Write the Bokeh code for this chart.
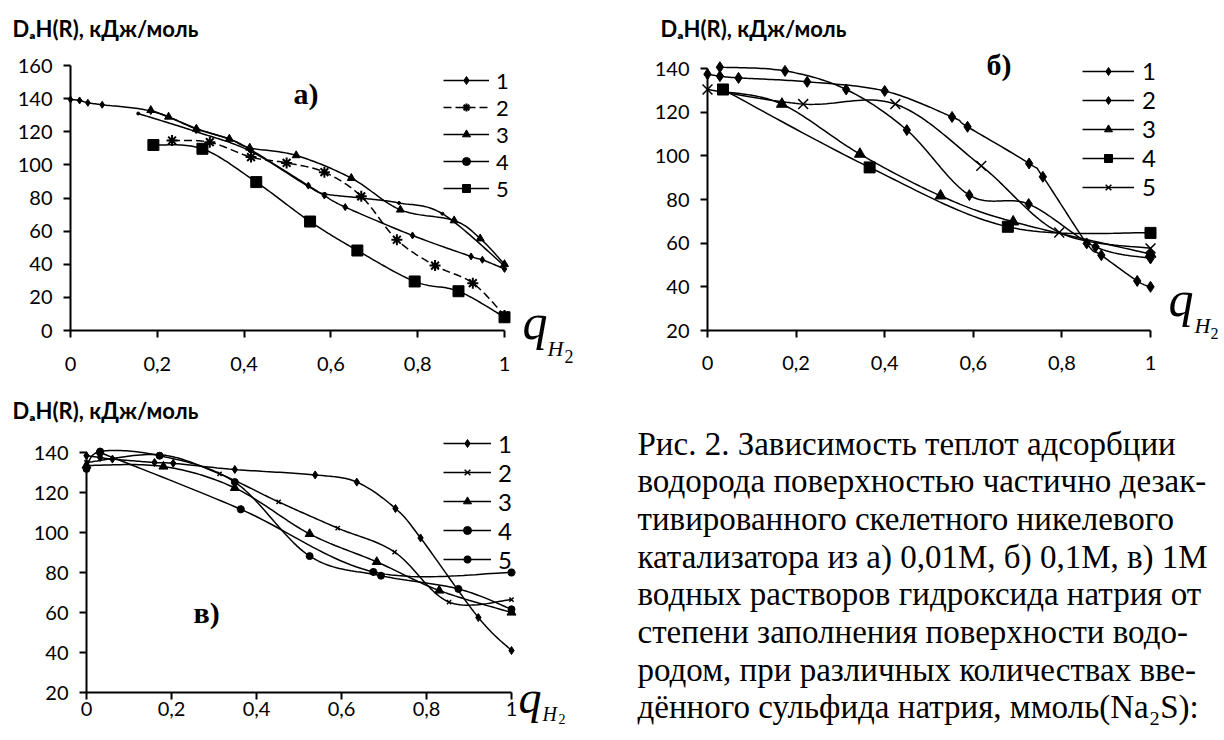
import numpy as np
from bokeh.plotting import figure
from bokeh.models import (Range1d, FixedTicker, CustomJSTickFormatter, Label,
                          Legend, LegendItem, LinearAxis)
from bokeh.layouts import row, column
from bokeh.embed import file_html
from bokeh.resources import INLINE

# ---------------- data ----------------
x_ticks = [0, 0.2, 0.4, 0.6, 0.8, 1]
x_tick_labels = ["0", "0,2", "0,4", "0,6", "0,8", "1"]
y_ticks_a = [0, 20, 40, 60, 80, 100, 120, 140, 160]
y_ticks_bc = [20, 40, 60, 80, 100, 120, 140]
series_names = ["1", "2", "3", "4", "5"]

# panel а)
a1_x = [0, 0.021, 0.04, 0.073, 0.185, 0.29, 0.366, 0.413, 0.548, 0.585, 0.633, 0.788, 0.923, 0.949, 1.0]
a1_y = [139.5, 138.9, 137.5, 136.3, 132.5, 122, 115.5, 109.5, 87.5, 81.5, 74.5, 57.4, 44.7, 42.7, 37.2]
a2_x = [0.234, 0.321, 0.416, 0.498, 0.585, 0.67, 0.752, 0.84, 0.927, 1.0]
a2_y = [114.7, 113.7, 104.7, 101.2, 95.6, 81, 54.8, 39.2, 28.6, 9]
a3_x = [0.185, 0.226, 0.29, 0.366, 0.413, 0.52, 0.647, 0.76, 0.884, 0.944, 1.0]
a3_y = [133, 129, 121.7, 115.7, 110.3, 105.7, 92, 72.9, 66.4, 55.5, 40]
a4_x = [0.156, 0.29, 0.413, 0.548, 0.586, 0.67, 0.757, 0.857, 1.0]
a4_y = [131, 120, 108.5, 87, 82.5, 80, 77, 70.5, 39]
a5_x = [0.191, 0.304, 0.428, 0.552, 0.661, 0.793, 0.894, 1.0]
a5_y = [112, 109.7, 89.6, 65.8, 48.3, 29.6, 23.7, 8]

# panel б)
b1_x = [0, 0.028, 0.07, 0.225, 0.4, 0.552, 0.587, 0.726, 0.757, 0.856, 0.889, 0.97, 1.0]
b1_y = [137.4, 136.5, 135.7, 133.9, 129.7, 117.8, 113.3, 96.5, 90.4, 59.9, 54.5, 42.7, 40]
b2_x = [0.028, 0.175, 0.313, 0.45, 0.591, 0.725, 0.876, 1.0]
b2_y = [140.6, 138.9, 130.4, 111.8, 82, 77.9, 58.3, 53]
b3_x = [0.035, 0.168, 0.344, 0.526, 0.69, 1.0]
b3_y = [129.5, 123.7, 100.8, 81.7, 69.8, 55]
b4_x = [0.035, 0.366, 0.678, 1.0]
b4_y = [130.4, 94.7, 67.5, 64.7]
b5_x = [0.0, 0.216, 0.424, 0.618, 0.794, 1.0]
b5_y = [130.4, 123.7, 123.7, 95.4, 64.9, 57.6]

# panel в)
c1_x = [0, 0.032, 0.061, 0.16, 0.204, 0.349, 0.538, 0.636, 0.727, 0.786, 0.922, 1.0]
c1_y = [138.4, 137.5, 136.7, 135, 134.6, 131.5, 128.8, 125.2, 112, 97.3, 57.5, 41]
c2_x = [0, 0.172, 0.313, 0.452, 0.591, 0.725, 0.853, 1.0]
c2_y = [135, 138.9, 129.3, 115.3, 102.2, 90.2, 65.2, 66.4]
c3_x = [0, 0.181, 0.349, 0.525, 0.683, 0.83, 1.0]
c3_y = [133.5, 133, 122.3, 99.3, 85.3, 71, 60]
c4_x = [0, 0.032, 0.172, 0.349, 0.525, 0.693, 0.875, 1.0]
c4_y = [131.8, 140.5, 138.4, 125.2, 88.2, 78.4, 71.8, 61.6]
c5_x = [0.032, 0.363, 0.675, 1.0]
c5_y = [140, 111.6, 80.3, 80]

y_title = "DₐH(R), кДж/моль"
caption_lines = [
    "Рис. 2. Зависимость теплот адсорбции",
    "водорода поверхностью частично дезак-",
    "тивированного скелетного никелевого",
    "катализатора из а) 0,01М, б) 0,1М, в) 1М",
    "водных растворов гидроксида натрия от",
    "степени заполнения поверхности водо-",
    "родом, при различных количествах вве-",
    "дённого сульфида натрия, ммоль(Na₂S):",
]

TICK_FONT = "Lato"
SERIF = "Liberation Serif"


def smooth(xs, ys, n=24):
    """Excel-style smoothed line (Catmull-Rom Bezier) through the data points."""
    P = np.column_stack([xs, ys]).astype(float)
    if len(P) < 3:
        return P[:, 0], P[:, 1]
    Q = np.vstack([P[0], P, P[-1]])
    t = np.linspace(0, 1, n, endpoint=False)[:, None]
    out = []
    for i in range(1, len(Q) - 2):
        p0, p1, p2, p3 = Q[i - 1], Q[i], Q[i + 1], Q[i + 2]
        c1 = p1 + (p2 - p0) / 6.0
        c2 = p2 - (p3 - p1) / 6.0
        seg = ((1 - t) ** 3) * p1 + 3 * ((1 - t) ** 2) * t * c1 + 3 * (1 - t) * (t ** 2) * c2 + (t ** 3) * p2
        out.append(seg)
    out.append(P[-1][None, :])
    R = np.vstack(out)
    return R[:, 0], R[:, 1]


class Frame:
    """Maps page pixel positions to data units of a figure whose frame fills its canvas."""
    def __init__(self, left, top, width, height, L, R, T, B, x0, x1, y0, y1):
        self.left, self.top, self.width, self.height = left, top, width, height
        self.L, self.R, self.T, self.B = L, R, T, B
        self.x0, self.x1, self.y0, self.y1 = x0, x1, y0, y1

    def dx(self, px):
        return self.x0 + (px - self.L) / (self.R - self.L) * (self.x1 - self.x0)

    def dy(self, py):
        return self.y0 + (self.B - py) / (self.B - self.T) * (self.y1 - self.y0)


def style_axis(ax):
    ax.axis_line_width = 2
    ax.axis_line_color = "black"
    ax.major_tick_line_width = 2
    ax.major_tick_line_color = "black"
    ax.major_tick_out = 7
    ax.major_tick_in = 0
    ax.minor_tick_out = 0
    ax.minor_tick_in = 0
    ax.major_label_text_font = TICK_FONT
    ax.major_label_text_font_size = "20px"
    ax.major_label_text_color = "black"


def make_fig(fr, y_ticks, x_standoff):
    p = figure(width=fr.width, height=fr.height,
               x_range=Range1d(fr.dx(fr.left), fr.dx(fr.left + fr.width)),
               y_range=Range1d(fr.dy(fr.top + fr.height), fr.dy(fr.top)),
               x_axis_type=None, y_axis_type=None,
               output_backend="svg", toolbar_location=None,
               min_border_left=0, min_border_right=0, min_border_top=0, min_border_bottom=0)
    p.outline_line_color = None
    p.background_fill_color = "white"
    p.border_fill_color = "white"
    xa = LinearAxis(fixed_location=fr.y0, bounds=(fr.x0, fr.x1),
                    ticker=FixedTicker(ticks=x_ticks),
                    formatter=CustomJSTickFormatter(
                        args=dict(vals=x_ticks, labs=x_tick_labels),
                        code="const i = vals.findIndex(v => Math.abs(v - tick) < 1e-9); return i >= 0 ? labs[i] : '';"))
    style_axis(xa)
    xa.major_label_standoff = x_standoff
    p.add_layout(xa, "below")
    ya = LinearAxis(fixed_location=fr.x0, bounds=(fr.y0, fr.y1), ticker=FixedTicker(ticks=y_ticks))
    style_axis(ya)
    ya.major_label_standoff = 11
    p.add_layout(ya, "left")
    return p


def add_series(p, xs, ys, marker, size, dash="solid", mlw=1.0):
    sx, sy = smooth(xs, ys)
    lr = p.line(sx, sy, line_color="black", line_width=1.5, line_dash=dash)
    sr = p.scatter(xs, ys, marker=marker, size=size, fill_color="black",
                   line_color="black", line_width=mlw)
    return [lr, sr]


def add_label(p, fr, px, py, text, font, size, style="normal"):
    # py is the vertical middle of the text
    p.add_layout(Label(x=fr.dx(px), y=fr.dy(py), text=text, text_font=font,
                       text_font_size=f"{size}px", text_font_style=style,
                       text_baseline="middle", text_align="left", text_color="black"))


def add_legend(p, fr, items, glyph_left, glyph_w, first_row, font_px, standoff):
    item_h = 1.2 * font_px
    bottom = first_row - item_h / 2.0 + 5 * item_h
    leg = Legend(items=[LegendItem(label=n, renderers=r) for n, r in zip(series_names, items)],
                 location=(glyph_left - fr.left, fr.top + fr.height - bottom),
                 glyph_width=glyph_w, glyph_height=20, label_height=20,
                 label_standoff=standoff, spacing=0, padding=0, margin=0,
                 label_text_font=TICK_FONT, label_text_font_size=f"{font_px}px",
                 label_text_color="black",
                 background_fill_alpha=0, border_line_alpha=0)
    p.add_layout(leg)


# ---------------- panel а) ----------------
FA = Frame(0, 0, 620, 392, 70, 504, 65, 330, 0, 1, 0, 160)
pa = make_fig(FA, y_ticks_a, 19)
ra = [
    add_series(pa, a1_x, a1_y, "diamond", 7),
    add_series(pa, a2_x, a2_y, "asterisk", 11, dash="8 4", mlw=2),
    add_series(pa, a3_x, a3_y, "triangle", 8),
    add_series(pa, a4_x, a4_y, "circle", 3),
    add_series(pa, a5_x, a5_y, "square", 11),
]
add_legend(pa, FA, ra, 443, 46, 82.7, 22, 7)
add_label(pa, FA, 12, 28, y_title, TICK_FONT, 22, "bold")
add_label(pa, FA, 293, 93, "а)", SERIF, 30, "bold")
add_label(pa, FA, 522, 321, "q", SERIF, 50, "italic")
add_label(pa, FA, 547, 348, "H", SERIF, 22, "italic")
add_label(pa, FA, 564, 356, "2", SERIF, 18)

# ---------------- panel б) ----------------
FB = Frame(620, 0, 600, 392, 707, 1150, 68, 330, 0, 1, 20, 140)
pb = make_fig(FB, y_ticks_bc, 18)
rb = [
    add_series(pb, b1_x, b1_y, "diamond", 11),
    add_series(pb, b2_x, b2_y, "diamond", 11),
    add_series(pb, b3_x, b3_y, "triangle", 11),
    add_series(pb, b4_x, b4_y, "square", 11),
    add_series(pb, b5_x, b5_y, "x", 14, mlw=1.5),
]
add_legend(pb, FB, rb, 1082, 52, 71.7, 24, 8)
add_label(pb, FB, 660, 28, y_title, TICK_FONT, 22, "bold")
add_label(pb, FB, 986, 64, "б)", SERIF, 30, "bold")
add_label(pb, FB, 1168, 298, "q", SERIF, 50, "italic")
add_label(pb, FB, 1194, 325, "H", SERIF, 22, "italic")
add_label(pb, FB, 1210, 333, "2", SERIF, 16)

# ---------------- panel в) ----------------
FC = Frame(0, 392, 620, 334, 86, 511, 452, 692, 0, 1, 20, 140)
pc = make_fig(FC, y_ticks_bc, 2)
rc = [
    add_series(pc, c1_x, c1_y, "diamond", 8),
    add_series(pc, c2_x, c2_y, "x", 6, mlw=1.5),
    add_series(pc, c3_x, c3_y, "triangle", 9),
    add_series(pc, c4_x, c4_y, "circle", 7),
    add_series(pc, c5_x, c5_y, "asterisk", 8, mlw=2.5),
]
add_legend(pc, FC, rc, 443, 48, 444, 24, 7)
add_label(pc, FC, 12, 410, y_title, TICK_FONT, 22, "bold")
add_label(pc, FC, 193, 612, "в)", SERIF, 30, "bold")
add_label(pc, FC, 518, 697, "q", SERIF, 46, "italic")
add_label(pc, FC, 542, 713, "H", SERIF, 20, "italic")
add_label(pc, FC, 558, 718, "2", SERIF, 14)

# ---------------- caption ----------------
pcap = figure(width=600, height=334, x_range=Range1d(620, 1220), y_range=Range1d(726, 392),
              x_axis_type=None, y_axis_type=None,
              output_backend="svg", toolbar_location=None,
              min_border_left=0, min_border_right=0, min_border_top=0, min_border_bottom=0)
pcap.outline_line_color = None
for i, line in enumerate(caption_lines):
    pcap.add_layout(Label(x=637, y=443 + 37.7 * i, text=line, text_font=SERIF,
                          text_font_size="33px", text_baseline="middle",
                          text_align="left", text_color="black"))

layout = row(column(pa, pc), column(pb, pcap))
open("out.html", "w").write(file_html(layout, INLINE))
